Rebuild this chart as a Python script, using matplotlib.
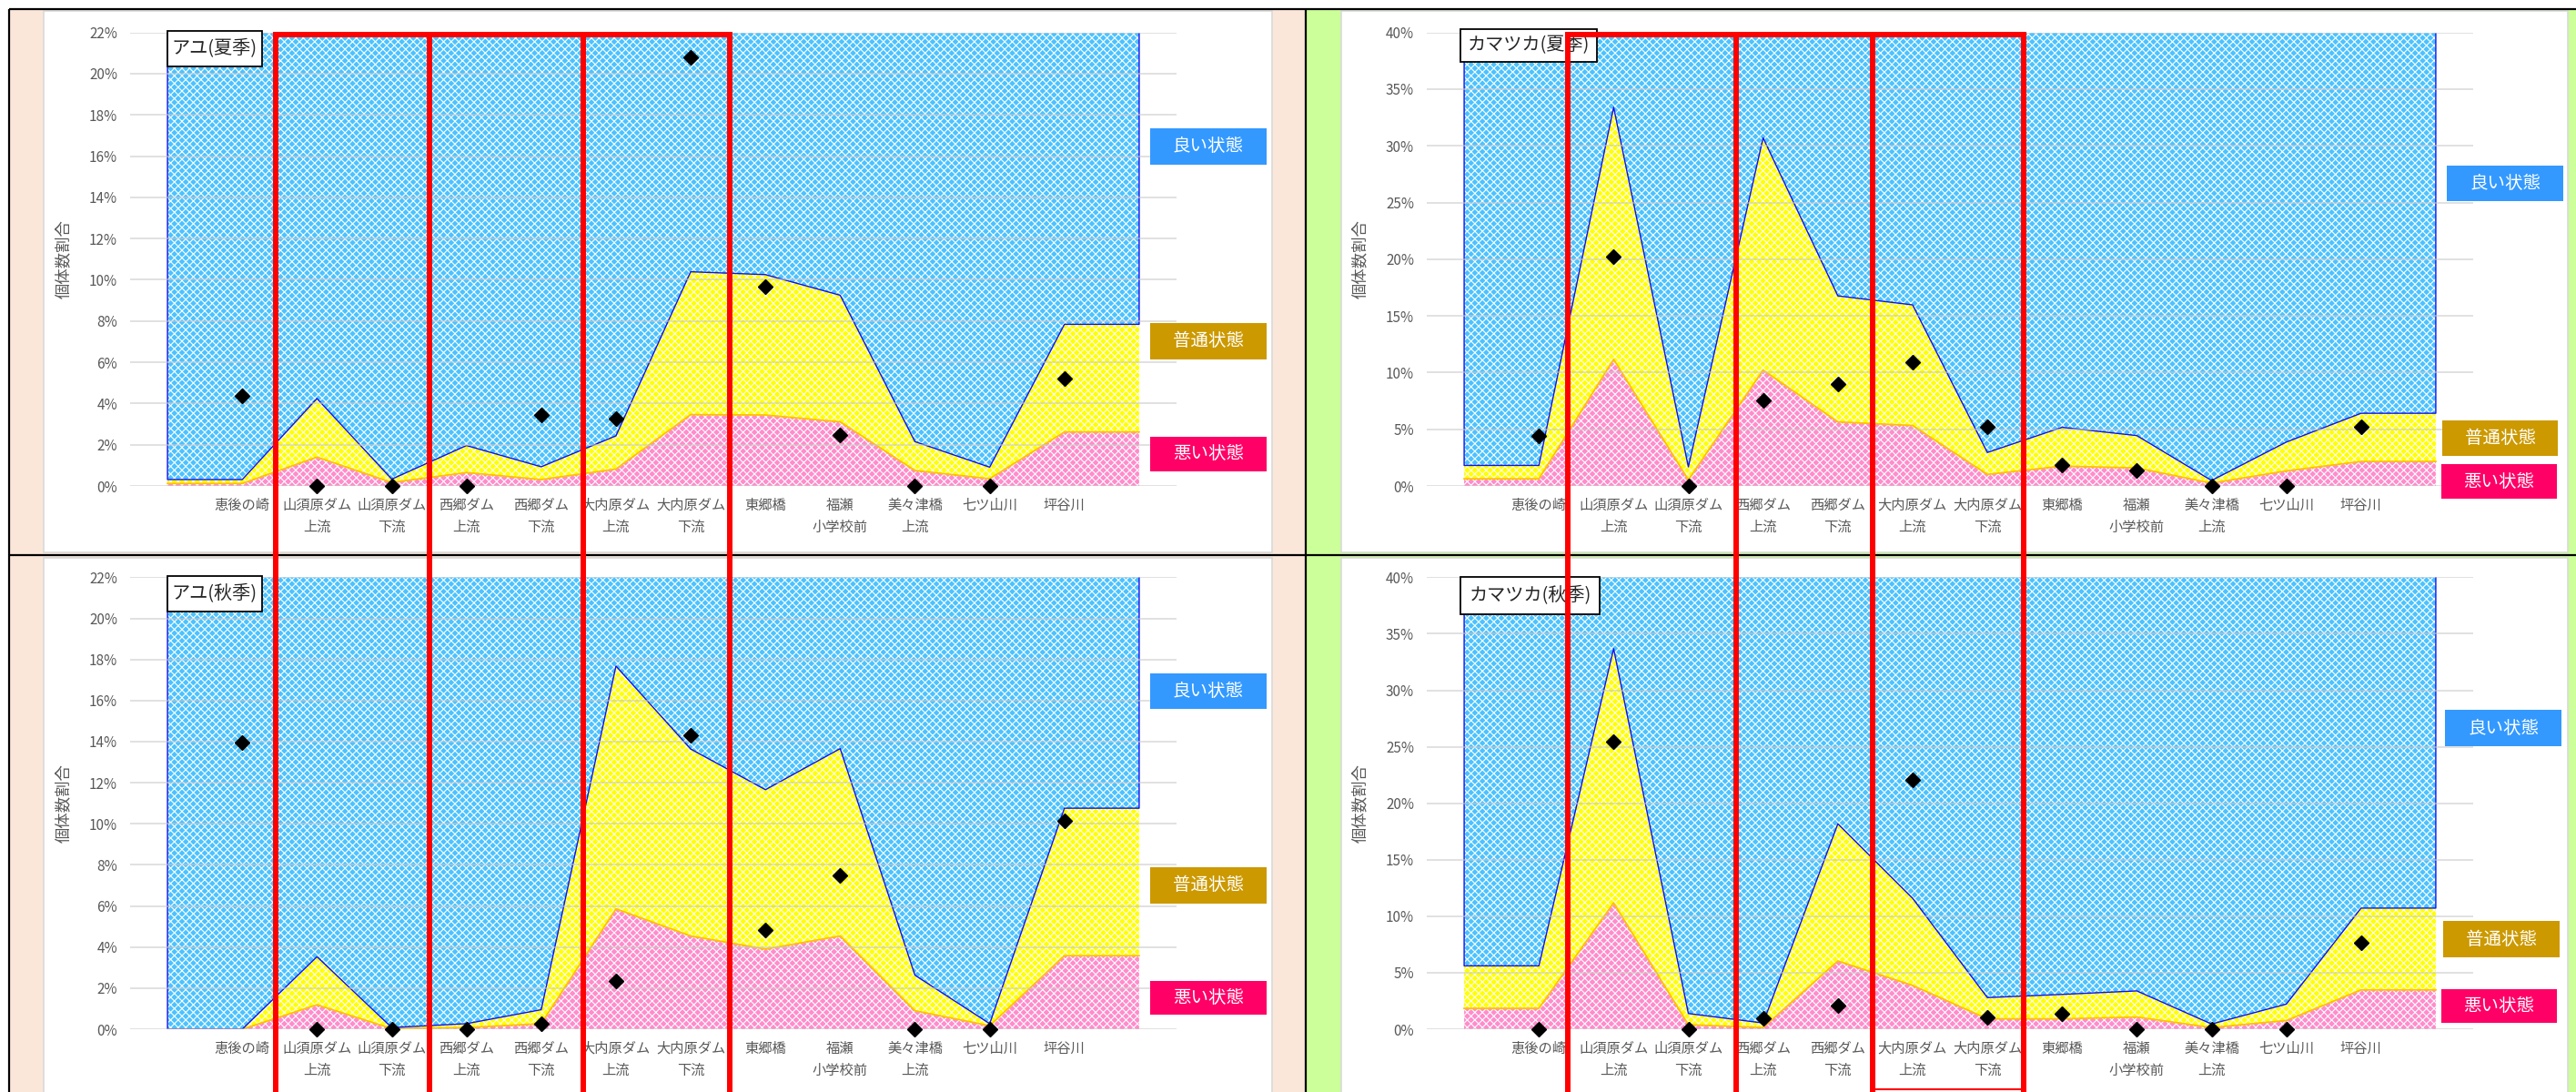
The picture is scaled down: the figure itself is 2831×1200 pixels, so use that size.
import numpy as np
import matplotlib.pyplot as plt
from matplotlib.patches import Rectangle
from matplotlib.lines import Line2D
from matplotlib.ticker import PercentFormatter

plt.rcParams['font.family'] = ['Noto Sans CJK JP', 'DejaVu Sans']
plt.rcParams['hatch.linewidth'] = 0.8

W, H = 2831, 1200

sites = ['恵後の崎', '山須原ダム\n上流', '山須原ダム\n下流', '西郷ダム\n上流', '西郷ダム\n下流',
         '大内原ダム\n上流', '大内原ダム\n下流', '東郷橋', '福瀬\n小学校前', '美々津橋\n上流',
         '七ツ山川', '坪谷川']

# 値は%単位: 悪い状態の上端, 普通状態の上端, 観測値(◆)
ayu_summer_bad = [0.12, 1.40, 0.17, 0.65, 0.31, 0.82, 3.46, 3.44, 3.11, 0.75, 0.35, 2.62]
ayu_summer_mid = [0.31, 4.24, 0.33, 1.96, 0.93, 2.43, 10.39, 10.25, 9.25, 2.15, 0.91, 7.84]
ayu_summer_obs = [4.37, 0, 0, 0, 3.46, 3.28, 20.81, 9.66, 2.48, 0, 0, 5.19]

kama_summer_bad = [0.63, 11.17, 0.54, 10.22, 5.65, 5.33, 1.02, 1.75, 1.59, 0.25, 1.33, 2.16]
kama_summer_mid = [1.81, 33.4, 1.68, 30.7, 16.76, 15.97, 2.95, 5.17, 4.44, 0.48, 3.87, 6.41]
kama_summer_obs = [4.38, 20.25, 0, 7.52, 8.98, 10.89, 5.24, 1.81, 1.33, 0, 0, 5.24]

ayu_autumn_bad = [0, 1.19, 0.03, 0.08, 0.27, 5.86, 4.54, 3.90, 4.54, 0.90, 0.17, 3.58]
ayu_autumn_mid = [0, 3.53, 0.08, 0.27, 0.95, 17.68, 13.64, 11.66, 13.66, 2.63, 0.27, 10.76]
ayu_autumn_obs = [13.95, 0, 0, 0, 0.25, 2.34, 14.29, 4.83, 7.49, 0, 0, 10.14]

kama_autumn_bad = [1.85, 11.19, 0.40, 0.15, 6.04, 3.88, 0.92, 0.92, 1.08, 0.15, 0.77, 3.48]
kama_autumn_mid = [5.61, 33.68, 1.39, 0.55, 18.18, 11.59, 2.80, 3.08, 3.39, 0.46, 2.22, 10.72]
kama_autumn_obs = [0, 25.42, 0, 0.96, 2.10, 22.06, 1.08, 1.33, 0, 0, 0, 7.64]

titles = ['アユ(夏季)', 'カマツカ(夏季)', 'アユ(秋季)', 'カマツカ(秋季)']
state_labels = ['良い状態', '普通状態', '悪い状態']
state_colors = ['#3399FF', '#CC9900', '#FF0066']

fig = plt.figure(figsize=(W / 100, H / 100), dpi=100)
fig.patch.set_facecolor('white')


def box(x0, y0, x1, y1, **kw):
    r = Rectangle((x0 / W, 1 - y1 / H), (x1 - x0) / W, (y1 - y0) / H,
                  transform=fig.transFigure, **kw)
    fig.add_artist(r)
    return r


def hline(x0, x1, y, **kw):
    fig.add_artist(Line2D([x0 / W, x1 / W], [1 - y / H, 1 - y / H], transform=fig.transFigure,
                          solid_capstyle='butt', **kw))


def vline(x, y0, y1, **kw):
    fig.add_artist(Line2D([x / W, x / W], [1 - y0 / H, 1 - y1 / H], transform=fig.transFigure,
                          solid_capstyle='butt', **kw))


# background cells
box(10, 10, 1435, 1210, facecolor='#FBE7D9', edgecolor='none', zorder=-5)
box(1435, 10, 2831, 1210, facecolor='#CCFF99', edgecolor='none', zorder=-5)
for y0, y1 in [(12, 607), (613, 1210)]:
    box(48, y0, 1398, y1, facecolor='white', edgecolor='#D9D9D9', lw=1.2, zorder=-4)
    box(1474, y0, 2822, y1, facecolor='white', edgecolor='#D9D9D9', lw=1.2, zorder=-4)
hline(10, 2831, 10, color='black', lw=1.6, zorder=-3)
hline(10, 2831, 610, color='black', lw=1.6, zorder=-3)
vline(10, 10, 1200, color='black', lw=1.6, zorder=-3)
vline(1435, 10, 1200, color='black', lw=1.6, zorder=-3)


def draw_panel(ax, bad, mid, obs, ymax, ystep):
    xs = np.arange(len(sites) + 2)
    bad_f = np.r_[bad[0], bad, bad[-1]]
    mid_f = np.r_[mid[0], mid, mid[-1]]
    hatch = 'xxxx'
    ax.fill_between(xs, 0, bad_f, facecolor='#FF8CCB', edgecolor='white', hatch=hatch, lw=0, zorder=1)
    ax.fill_between(xs, bad_f, mid_f, facecolor='#FFFF00', edgecolor='white', hatch=hatch, lw=0, zorder=1)
    ax.fill_between(xs, mid_f, ymax, facecolor='#4CC2FF', edgecolor='white', hatch=hatch, lw=0, zorder=1)
    ax.plot(xs, bad_f, color='#FFC000', lw=1.3, zorder=2)
    ax.plot(np.r_[xs[0], xs, xs[-1]], np.r_[ymax, mid_f, ymax], color='#1010F0', lw=1.0, zorder=2)
    ax.plot(np.arange(1, len(sites) + 1), obs, linestyle='none', marker='D', color='black',
            ms=8, zorder=4, clip_on=False)

    ax.set_xlim(-0.5, len(sites) + 1.5)
    ax.set_ylim(0, ymax)
    ax.set_yticks(np.arange(0, ymax + ystep / 2, ystep))
    ax.yaxis.set_major_formatter(PercentFormatter(xmax=100, decimals=0))
    ax.set_xticks(np.arange(1, len(sites) + 1))
    ax.set_xticklabels(sites, linespacing=1.55)
    ax.tick_params(length=0, labelsize=11, labelcolor='#595959')
    ax.tick_params(axis='y', pad=10)
    ax.tick_params(axis='x', pad=9)
    for s in ax.spines.values():
        s.set_visible(False)
    ax.set_axisbelow(False)
    ax.yaxis.grid(True, color='#C8C8C8', lw=1.3, alpha=0.6)
    ax.set_ylabel('個体数割合', color='#595959', fontsize=12.5)
    ax.yaxis.set_label_coords(-0.056, 0.5)


panels = [
    (ayu_summer_bad, ayu_summer_mid, ayu_summer_obs, 22, 2),
    (kama_summer_bad, kama_summer_mid, kama_summer_obs, 40, 5),
    (ayu_autumn_bad, ayu_autumn_mid, ayu_autumn_obs, 22, 2),
    (kama_autumn_bad, kama_autumn_mid, kama_autumn_obs, 40, 5),
]
axes_px = [(143, 35.6, 534), (1568, 35.6, 534), (143, 634.4, 1131), (1568, 634.4, 1131)]
title_px = [(184, 34, 288, 73), (1605, 32, 1755, 68), (184, 633, 288, 672), (1605, 634, 1758, 675)]
legend_px = [
    [(1264, 141, 1392, 181), (1264, 355, 1392, 395), (1264, 480, 1392, 518)],
    [(2689, 182, 2817, 221), (2684, 462, 2811, 501), (2683, 510, 2810, 548)],
    [(1264, 740, 1392, 779), (1264, 953, 1392, 993), (1264, 1078, 1392, 1115)],
    [(2687, 780, 2815, 820), (2685, 1012, 2813, 1052), (2683, 1087, 2810, 1124)],
]

for i, (bad, mid, obs, ymax, ystep) in enumerate(panels):
    x0, ytop, ybot = axes_px[i]
    ax = fig.add_axes([x0 / W, 1 - ybot / H, 1150 / W, (ybot - ytop) / H])
    ax.set_facecolor('white')
    draw_panel(ax, bad, mid, obs, ymax, ystep)

    tx0, ty0, tx1, ty1 = title_px[i]
    box(tx0, ty0, tx1, ty1, facecolor='white', edgecolor='black', lw=1.3, zorder=5)
    fig.text((tx0 + tx1) / 2 / W, 1 - (ty0 + ty1) / 2 / H, titles[i], fontsize=14.5,
             color='#262626', ha='center', va='center', zorder=6)

    for (lx0, ly0, lx1, ly1), lab, col in zip(legend_px[i], state_labels, state_colors):
        box(lx0, ly0, lx1, ly1, facecolor=col, edgecolor='none', zorder=5)
        fig.text((lx0 + lx1) / 2 / W, 1 - (ly0 + ly1) / 2 / H, lab, fontsize=14,
                 color='white', ha='center', va='center', zorder=6)

# red highlight frames
red_left = [303, 472, 641, 802]
red_right = [1723, 1908, 2058, 2224]
for xs_ in (red_left, red_right):
    hline(xs_[0] - 3, xs_[-1] + 3, 38, color='#FF0000', lw=4.3, zorder=10)
    for x in xs_:
        vline(x, 36, 1210, color='#FF0000', lw=4.3, zorder=10)
hline(2058, 2224, 1197, color='#FF0000', lw=1.5, zorder=10)

fig.savefig('out.png', dpi=100)
